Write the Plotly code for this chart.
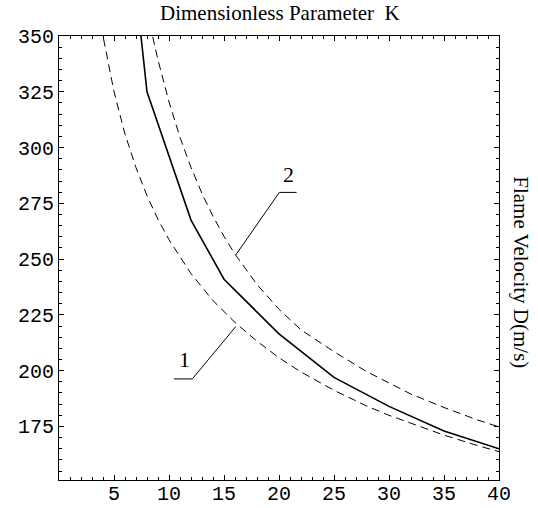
import plotly.graph_objects as go

# ---- data ----
k_solid = [7, 8, 12, 15, 20, 25, 30, 35, 40]
d_solid = [370.5, 325, 267.5, 241, 216.5, 197, 184, 173, 165]

k_curve1 = [3.5, 4, 5, 6, 7, 8, 9, 10, 12, 14, 16, 18, 20, 22, 25, 28, 30, 32, 35, 38, 40]
d_curve1 = [366, 350, 325.1, 306, 291, 278.4, 267.8, 258.7, 243.5, 231.4, 221.6, 213.2,
            205.8, 199.4, 191.2, 184.1, 180, 176.3, 171.1, 166.5, 163.7]

k_curve2 = [8, 8.5, 9, 10, 11, 12, 13, 14, 15, 16, 18, 20, 22, 25, 28, 30, 32, 35, 38, 40]
d_curve2 = [361, 350, 339.2, 320.5, 304.6, 291.1, 279.4, 269.2, 260.2, 252.2, 238.6, 227.5,
            218.3, 208.5, 199.5, 194.5, 189.5, 183.5, 178, 174.8]

x_ticks = [5, 10, 15, 20, 25, 30, 35, 40]
y_ticks = [175, 200, 225, 250, 275, 300, 325, 350]

# leader lines (data coords) and labels
leader1 = [(16.06, 219.7), (12.12, 196.3), (10.45, 196.3)]
label1 = (11.45, 204.8, "1")
leader2 = [(16.06, 251.8), (20.03, 279.9), (21.6, 279.9)]
label2 = (20.85, 288.1, "2")

fig = go.Figure()
fig.add_trace(go.Scatter(x=k_curve1, y=d_curve1, mode="lines",
                         line=dict(color="black", width=1, dash="8px,5px"), showlegend=False))
fig.add_trace(go.Scatter(x=k_curve2, y=d_curve2, mode="lines",
                         line=dict(color="black", width=1, dash="8px,5px"), showlegend=False))
fig.add_trace(go.Scatter(x=k_solid, y=d_solid, mode="lines",
                         line=dict(color="black", width=1.6), showlegend=False))

for pts in (leader1, leader2):
    for (xa, ya), (xb, yb) in zip(pts[:-1], pts[1:]):
        fig.add_shape(type="line", xref="x", yref="y", x0=xa, y0=ya, x1=xb, y1=yb,
                      line=dict(color="black", width=1))

for lx, ly, txt in (label1, label2):
    fig.add_annotation(x=lx, y=ly, xref="x", yref="y", text=txt, showarrow=False,
                       xanchor="center", yanchor="middle",
                       font=dict(family="Liberation Serif", size=22, color="black"))

fig.add_annotation(x=0.503, y=1.0, xref="paper", yref="paper", yshift=23,
                   xanchor="center", yanchor="middle",
                   text="Dimensionless Parameter  K", showarrow=False,
                   font=dict(family="Liberation Serif", size=21, color="black"))
fig.add_annotation(x=1.0, y=0.468, xref="paper", yref="paper", xshift=22,
                   xanchor="center", yanchor="middle",
                   text="Flame Velocity D(m/s)", showarrow=False, textangle=90,
                   font=dict(family="Liberation Serif", size=21, color="black"))

tickfont = dict(family="Liberation Mono", size=20, color="black")
fig.update_xaxes(range=[0, 40], tickmode="array", tickvals=x_ticks, ticks="inside",
                 ticklen=5, tickcolor="black", showline=True, linecolor="black", linewidth=1,
                 mirror="allticks", showgrid=False, zeroline=False, tickfont=tickfont,
                 automargin=False, ticklabelstandoff=-5,
                 minor=dict(tickmode="linear", tick0=0, dtick=1, ticks="inside", ticklen=3,
                            tickcolor="black", showgrid=False))
fig.update_yaxes(range=[151, 350], tickmode="array", tickvals=y_ticks, ticks="inside",
                 ticklen=5, tickcolor="black", showline=True, linecolor="black", linewidth=1,
                 mirror="allticks", showgrid=False, zeroline=False, tickfont=tickfont,
                 automargin=False,
                 minor=dict(tickmode="linear", tick0=150, dtick=5, ticks="inside", ticklen=3,
                            tickcolor="black", showgrid=False))

fig.update_layout(width=538, height=508, margin=dict(l=59, r=39, t=36, b=28),
                  plot_bgcolor="white", paper_bgcolor="white", hovermode=False)

# remove the page's default 8px body margin so the figure sits at the window origin
fig.write_html("out.html", config={"displayModeBar": False},
               post_script="document.body.style.margin='0px';document.body.style.overflow='hidden';")
